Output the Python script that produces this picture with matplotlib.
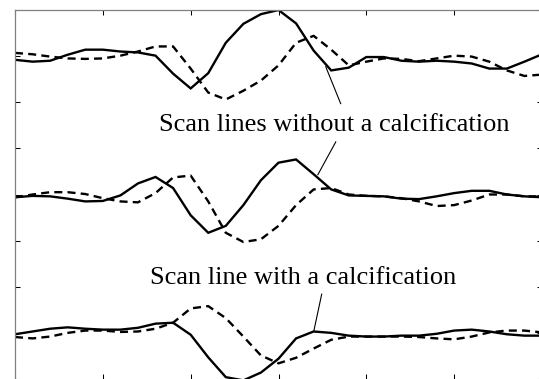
import numpy as np
from matplotlib import pyplot as plt

# samples along each scan line (5 samples per tick interval)
sample_idx = list(range(31))

# upper pair: scan lines without a calcification (offset 7)
top_solid = [6.92, 6.88, 6.90, 7.03, 7.14, 7.14, 7.10, 7.08, 7.01, 6.62, 6.30, 6.63, 7.29, 7.70, 7.91, 8.00,
             7.71, 7.12, 6.69, 6.75, 6.98, 6.98, 6.90, 6.88, 6.90, 6.88, 6.84, 6.73, 6.73, 6.88, 7.04]
top_dashed = [7.07, 7.04, 6.99, 6.95, 6.94, 6.95, 7.01, 7.10, 7.21, 7.21, 6.73, 6.21, 6.06, 6.25, 6.47, 6.80,
              7.29, 7.44, 7.14, 6.80, 6.88, 6.95, 6.94, 6.89, 6.95, 7.01, 6.99, 6.88, 6.69, 6.57, 6.60]

# middle pair (offset 4)
mid_solid = [3.94, 3.97, 3.96, 3.91, 3.85, 3.86, 3.98, 4.24, 4.38, 4.14, 3.55, 3.17, 3.32, 3.77, 4.31, 4.69,
             4.76, 4.44, 4.11, 3.98, 3.97, 3.96, 3.91, 3.90, 3.96, 4.03, 4.08, 4.08, 4.00, 3.96, 3.94]
mid_dashed = [3.94, 4.00, 4.05, 4.05, 4.01, 3.92, 3.85, 3.83, 4.03, 4.37, 4.41, 3.85, 3.17, 2.97, 3.03, 3.32,
              3.77, 4.11, 4.14, 4.00, 3.97, 3.96, 3.92, 3.85, 3.75, 3.77, 3.87, 4.00, 4.00, 3.96, 3.96]

# lower pair: scan line with a calcification (offset 1)
low_solid = [0.97, 1.03, 1.09, 1.12, 1.09, 1.07, 1.07, 1.11, 1.20, 1.22, 0.96, 0.47, 0.04, -0.03, 0.14, 0.44,
             0.88, 1.03, 1.00, 0.94, 0.92, 0.92, 0.94, 0.94, 0.98, 1.05, 1.07, 1.03, 0.97, 0.94, 0.94]
low_dashed = [0.91, 0.88, 0.92, 1.00, 1.05, 1.05, 1.02, 1.03, 1.09, 1.22, 1.53, 1.58, 1.32, 0.92, 0.51, 0.34,
              0.46, 0.66, 0.85, 0.92, 0.92, 0.92, 0.92, 0.91, 0.88, 0.86, 0.92, 1.01, 1.05, 1.05, 1.01]

label_without = "Scan lines without a calcification"
label_with = "Scan line with a calcification"


def draw_pair(ax, solid, dashed):
    ax.plot(sample_idx, solid, color='black', lw=1.7, solid_joinstyle='miter')
    ax.plot(sample_idx, dashed, color='black', lw=1.7, dashes=(3.4, 2.2))


fig = plt.figure(figsize=(5.39, 3.79), dpi=100)
ax = fig.add_axes([15/539, 0.0, 527/539, 369/379])

draw_pair(ax, top_solid, top_dashed)
draw_pair(ax, mid_solid, mid_dashed)
draw_pair(ax, low_solid, low_dashed)

ax.set_xlim(0, 30)
ax.set_ylim(0, 8)
ax.set_xticks(np.arange(0, 31, 5))
ax.set_yticks(np.arange(0, 9, 1))
ax.set_xticklabels([])
ax.set_yticklabels([])
ax.tick_params(direction='in', length=3.6, width=0.75, color='black',
               top=True, right=True, bottom=True, left=True)
for side in ['top', 'left', 'right']:
    ax.spines[side].set_color('#808080')
    ax.spines[side].set_linewidth(0.9)
ax.spines['bottom'].set_visible(False)

font = dict(family='Liberation Serif', size=19, ha='center', va='baseline')
ax.text(18.2, 5.38, label_without, **font)
ax.text(16.4, 2.06, label_with, **font)

# leader lines from the labels to the curves
ax.plot([17.69, 18.54], [6.77, 5.97], color='black', lw=0.8)
ax.plot([18.26, 17.24], [5.14, 4.43], color='black', lw=0.8)
ax.plot([17.46, 17.01], [1.84, 1.04], color='black', lw=0.8)

fig.savefig('out.png', dpi=100)
